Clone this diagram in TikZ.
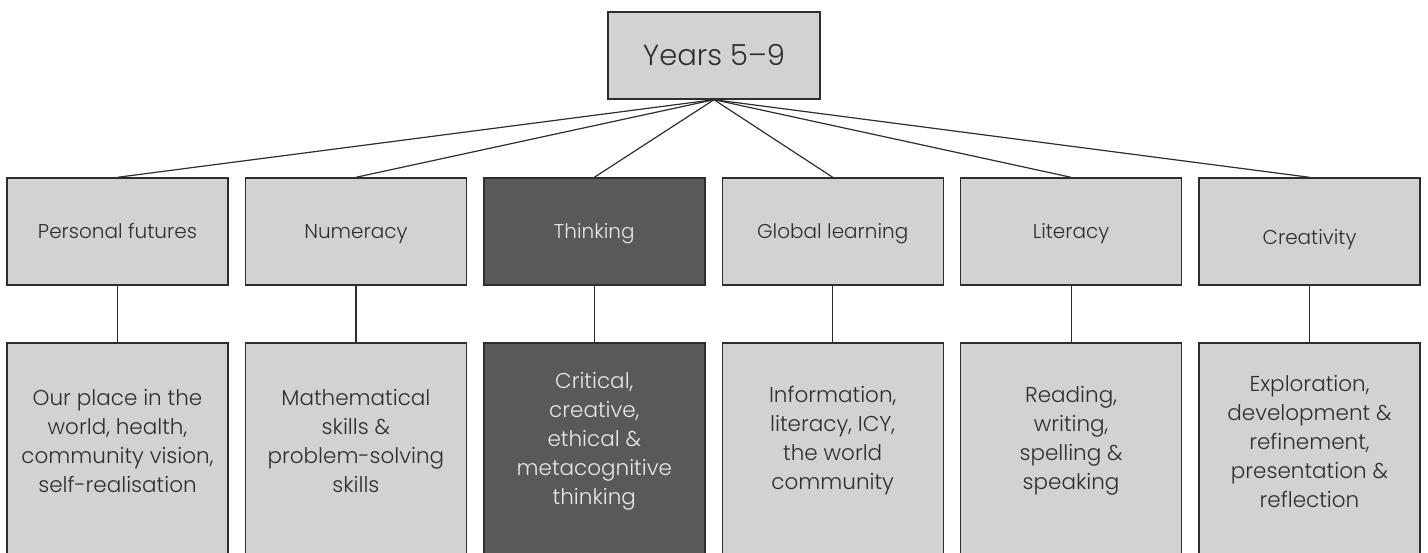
\documentclass[tikz,border=0pt]{standalone}
\usepackage{fontspec}
\IfFontExistsTF{Poppins Light}{\setmainfont{Poppins Light}}{\setmainfont{Poppins}}
\definecolor{boxfill}{HTML}{D1D2D4}
\definecolor{darkfill}{HTML}{58595B}
\definecolor{ink}{HTML}{2E2E2E}
\definecolor{paleink}{HTML}{E8E8E8}
\tikzset{
  box/.style={draw=ink, line width=1.4pt, fill=boxfill, rectangle, inner sep=0pt},
  topbox/.style={box, minimum width=212pt, minimum height=87pt},
  areabox/.style={box, minimum width=221pt, minimum height=107pt},
  areatext/.style={text=ink, font=\fontsize{20}{24}\selectfont, anchor=base, inner sep=0pt},
  lowbox/.style={box, minimum width=221pt, minimum height=260pt},
  lowtext/.style={text=ink, align=center, font=\fontsize{21.5}{29}\selectfont, inner sep=0pt},
  dark/.style={fill=darkfill},
  darktext/.style={text=paleink},
  link/.style={draw=ink, line width=1.2pt},
}
\begin{document}
\begin{tikzpicture}[x=1pt, y=-1pt]
\useasboundingbox (0,0) rectangle (1428,552);
\clip (0,0) rectangle (1428,552);

% root
\node[topbox] (root) at (714,55.5) {};
\node[text=ink, font=\fontsize{29}{34}\selectfont, anchor=base, inner sep=0pt] (roottext) at (714,65) {Years 5–9};

% learning areas
\node[areabox] (a1) at (117.5,231.5) {};
\node[areabox] (a2) at (355.9,231.5) {};
\node[areabox, dark] (a3) at (594.3,231.5) {};
\node[areabox] (a4) at (832.7,231.5) {};
\node[areabox] (a5) at (1071.1,231.5) {};
\node[areabox] (a6) at (1309.5,231.5) {};

\node[areatext] (a1t) at (117.5,238) {Personal futures};
\node[areatext] (a2t) at (355.9,238) {Numeracy};
\node[areatext, darktext] (a3t) at (594.3,238) {Thinking};
\node[areatext] (a4t) at (832.7,238) {Global learning};
\node[areatext] (a5t) at (1071.1,238) {Literacy};
\node[areatext] (a6t) at (1309.5,244) {Creativity};

% descriptions
\node[lowbox] (b1) at (117.5,473) {};
\node[lowbox] (b2) at (355.9,473) {};
\node[lowbox, dark] (b3) at (594.3,473) {};
\node[lowbox] (b4) at (832.7,473) {};
\node[lowbox] (b5) at (1071.1,473) {};
\node[lowbox] (b6) at (1309.5,473) {};

\node[lowtext] (b1t) at (117.5,441) {Our place in the\\world, health,\\community vision,\\self-realisation};
\node[lowtext] (b2t) at (355.9,441) {Mathematical\\skills \&\\problem-solving\\skills};
\node[lowtext, darktext] (b3t) at (594.3,441) {Critical,\\creative,\\ethical \&\\metacognitive\\thinking};
\node[lowtext] (b4t) at (832.7,441) {Information,\\literacy, ICY,\\the world\\community};
\node[lowtext] (b5t) at (1071.1,441) {Reading,\\writing,\\spelling \&\\speaking};
\node[lowtext] (b6t) at (1309.5,441) {Exploration,\\development \&\\refinement,\\presentation \&\\reflection};

% connectors
\foreach \i in {1,...,6} {
  \draw[link] (root.south) -- (a\i.north);
  \draw[link] (a\i.south) -- (b\i.north);
}
\end{tikzpicture}
\end{document}
